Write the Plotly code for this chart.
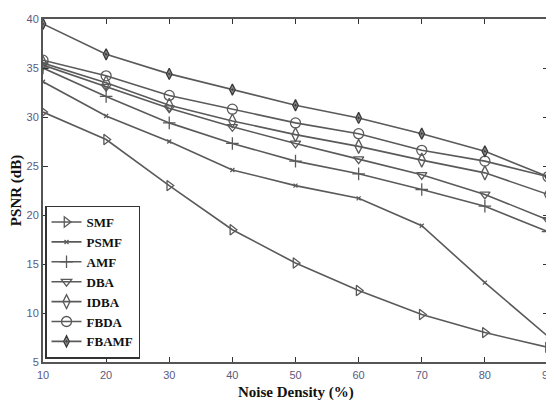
import plotly.graph_objects as go

noise = [10, 20, 30, 40, 50, 60, 70, 80, 90]
smf = [30.5, 27.7, 23.0, 18.5, 15.1, 12.3, 9.85, 8.0, 6.5]
psmf = [33.6, 30.1, 27.5, 24.6, 23.0, 21.7, 18.9, 13.1, 7.6]
amf = [35.0, 32.1, 29.4, 27.3, 25.5, 24.2, 22.6, 20.9, 18.3]
dba = [35.3, 33.1, 30.9, 29.0, 27.3, 25.7, 24.1, 22.1, 19.5]
idba = [35.5, 33.5, 31.2, 29.6, 28.2, 27.0, 25.6, 24.3, 22.1]
fbda = [35.8, 34.2, 32.2, 30.8, 29.4, 28.3, 26.6, 25.5, 23.9]
fbamf = [39.5, 36.4, 34.4, 32.8, 31.2, 29.9, 28.3, 26.5, 23.9]

names = ["SMF", "PSMF", "AMF", "DBA", "IDBA", "FBDA", "FBAMF"]
series = [smf, psmf, amf, dba, idba, fbda, fbamf]
symbols = ["triangle-right-open", "x-thin-open", "cross-thin-open", "triangle-down-open",
           "diamond-tall-open", "circle-open", "diamond-tall-dot"]
sizes = [9, 4, 9, 9, 10, 10, 8]

LINE = "#5a5a5a"
fig = go.Figure()
for n, s, sym, sz in zip(names, series, symbols, sizes):
    fig.add_trace(go.Scatter(
        x=noise, y=s, name=n, mode="lines+markers",
        line=dict(color=LINE, width=1.6),
        marker=dict(symbol=sym, size=sz, color="#8a8a8a" if sym.endswith("dot") else LINE,
                    line=dict(color="#3a3a3a" if sym.endswith("dot") else LINE, width=1.3)),
    ))

serif = "Liberation Serif, Times New Roman"
tickfont = dict(family="Liberation Sans, Arial", size=11, color="#5c5a80")
fig.update_layout(
    width=554, height=403,
    margin=dict(l=35, r=14, t=5, b=49),
    paper_bgcolor="white", plot_bgcolor="white",
    showlegend=True,
    legend=dict(
        x=0.004, y=0.01, xanchor="left", yanchor="bottom",
        bgcolor="white", bordercolor="#333333", borderwidth=1.5,
        font=dict(family=serif, size=13, color="#111111", weight="bold"),
        tracegroupgap=0, itemwidth=30,
    ),
    xaxis=dict(
        range=[10, 90], tickvals=noise, ticks="inside", ticklen=5,
        tickcolor="#333333", showgrid=False, zeroline=False,
        showline=True, linecolor="#555555", linewidth=2, mirror="ticks",
        tickfont=tickfont, ticklabelstandoff=2, ticklabeloverflow="allow",
    ),
    yaxis=dict(
        range=[5, 40], tickvals=[5, 10, 15, 20, 25, 30, 35, 40], ticks="inside", ticklen=5,
        tickcolor="#333333", showgrid=False, zeroline=False,
        showline=True, linecolor="#555555", linewidth=2, mirror="ticks",
        tickfont=tickfont, ticklabeloverflow="allow",
        title=dict(text="<b>PSNR (dB)</b>", standoff=2,
                   font=dict(family=serif, size=15, color="#111111")),
    ),
    annotations=[dict(
        text="<b>Noise Density (%)</b>", xref="paper", yref="paper",
        x=0.5, y=-0.089, xanchor="center", yanchor="middle", showarrow=False,
        font=dict(family=serif, size=15, color="#111111"),
    )],
)
fig.write_html("out.html")
